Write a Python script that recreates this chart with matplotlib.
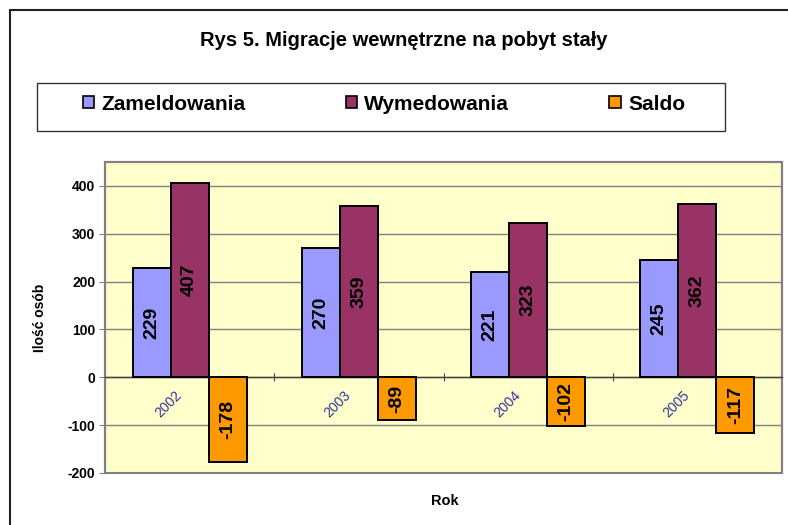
import numpy as np
import matplotlib
matplotlib.use("Agg")
import matplotlib.pyplot as plt
import matplotlib.transforms as mtransforms
from matplotlib.patches import Rectangle

plt.rcParams['font.family'] = ['Liberation Sans', 'DejaVu Sans']
plt.rcParams['axes.unicode_minus'] = False

# data
years = ['2002', '2003', '2004', '2005']
zameldowania = [229, 270, 221, 245]
wymedowania = [407, 359, 323, 362]
saldo = [-178, -89, -102, -117]
series_names = ['Zameldowania', 'Wymedowania', 'Saldo']
colors = ['#9999FF', '#993366', '#FF9900']

W, H = 788, 525
fig = plt.figure(figsize=(W / 100, H / 100), dpi=100)
ax = fig.add_axes([105 / W, 1 - 473 / H, 677 / W, 311 / H])

x = np.arange(len(years))
w = 0.225
for i, (vals, c, name) in enumerate(zip([zameldowania, wymedowania, saldo], colors, series_names)):
    bars = ax.bar(x + (i - 1) * w, vals, w, color=c, edgecolor='black', linewidth=1.4,
                  label=name, zorder=3)
    ax.bar_label(bars, labels=[str(v) for v in vals], label_type='center', rotation=90,
                 fontsize=14, fontweight='bold', zorder=4)

ax.set_xlim(-0.5, len(years) - 0.5)
ax.set_ylim(-200, 450)
ax.set_facecolor('#FFFFCC')
ax.patch.set_edgecolor('#808080')
ax.patch.set_linewidth(1.5)

for s in ['left', 'right', 'top']:
    ax.spines[s].set_color('#808080')
    ax.spines[s].set_linewidth(1.5)
ax.spines['bottom'].set_position(('data', 0))
ax.spines['bottom'].set_color('#404040')
ax.spines['bottom'].set_linewidth(1.0)

ax.set_yticks(range(-200, 401, 100))
ax.yaxis.grid(True, color='#808080', linewidth=1.0, zorder=0)
ax.set_axisbelow(True)
ax.tick_params(axis='y', direction='out', length=4, color='#808080', labelsize=10, pad=3)
for lbl in ax.get_yticklabels():
    lbl.set_fontweight('bold')

ax.set_ylabel('Ilość osób', fontsize=10, fontweight='bold')
ax.yaxis.set_label_coords((47 - 105) / 677, (473 - 318) / 311)

# category boundaries as major ticks, year labels on minor ticks
ax.set_xticks(x[:-1] + 0.5)
ax.set_xticklabels([])
ax.tick_params(axis='x', which='major', direction='inout', length=6, color='#404040')
ax.set_xticks(x, years, minor=True)
ax.tick_params(axis='x', which='minor', length=0, pad=8, labelsize=10, labelcolor='#333399')
shift = mtransforms.ScaledTranslation(-5 / 100, 0, fig.dpi_scale_trans)
for lbl in ax.get_xticklabels(minor=True):
    lbl.set_rotation(45)
    lbl.set_ha('right')
    lbl.set_va('top')
    lbl.set_transform(lbl.get_transform() + shift)

fig.text(445 / W, 1 - 501 / H, 'Rok', ha='center', va='center', fontsize=10.5, fontweight='bold')
fig.text(404 / W, 1 - 40 / H, 'Rys 5. Migracje wewnętrzne na pobyt stały', ha='center',
         va='center', fontsize=14.5, fontweight='bold')

# legend box and entries
fig.add_artist(Rectangle((37 / W, 1 - 131 / H), 688 / W, 48 / H, transform=fig.transFigure,
                         facecolor='white', edgecolor='#333333', linewidth=1.0))
leg = fig.legend(loc='center', bbox_to_anchor=(384 / W, 1 - 104 / H), ncol=3,
                 frameon=False, prop=dict(weight='bold', size=15), handlelength=0.55,
                 handleheight=0.55, handletextpad=0.35, columnspacing=4.8, borderaxespad=0)
for hnd in leg.legend_handles:
    hnd.set_linewidth(1.2)

fig.add_artist(Rectangle((10 / W, -0.1), 1.2, 1 - 10 / H + 0.1, transform=fig.transFigure,
                         fill=False, edgecolor='#202020', linewidth=1.5))

fig.savefig('out.png', dpi=100)
